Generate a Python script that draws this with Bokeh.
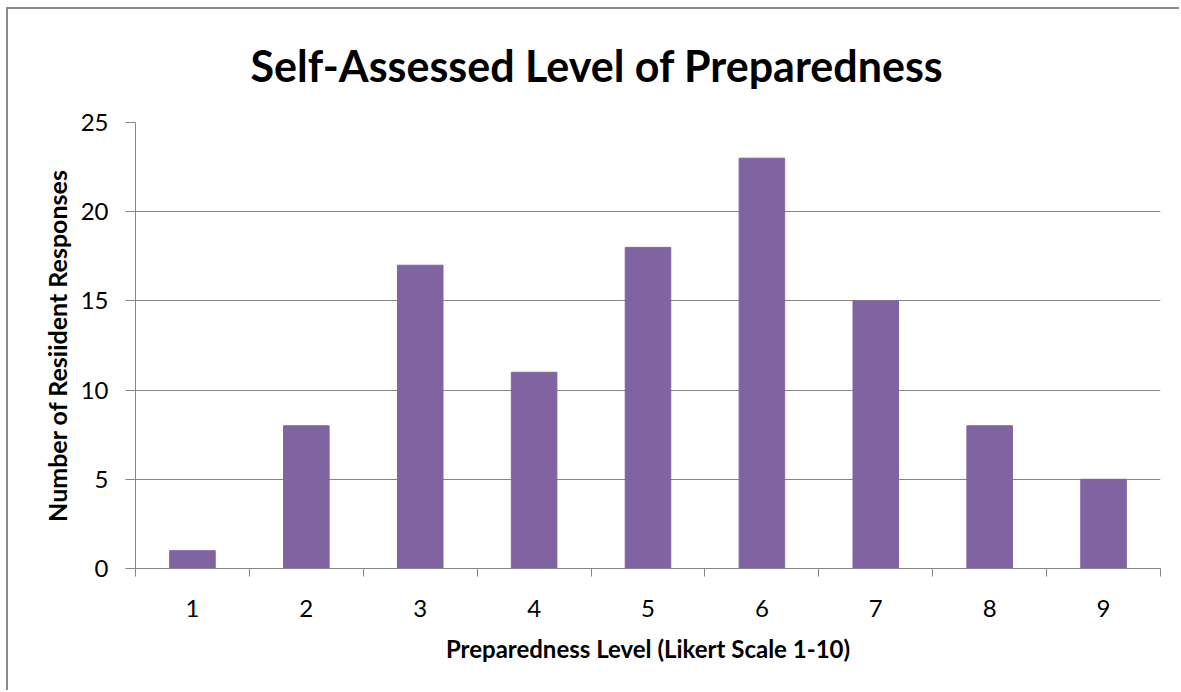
from bokeh.plotting import figure
from bokeh.models import Range1d, FixedTicker
from bokeh.embed import file_html
from bokeh.resources import INLINE

title_text = "Self-Assessed Level of Preparedness"
x_title = "Preparedness Level (Likert Scale 1-10)"
y_title = "Number of Resiident Responses"
levels = [1, 2, 3, 4, 5, 6, 7, 8, 9]
responses = [1, 8, 17, 11, 18, 23, 15, 8, 5]
y_ticks = [0, 5, 10, 15, 20, 25]

BAR = "#8064A2"
GRID = "#868686"
FONT = "Lato"

p = figure(width=1173, height=683, output_backend="svg", toolbar_location=None,
           x_range=Range1d(levels[0] - 0.5, levels[-1] + 0.5),
           y_range=Range1d(y_ticks[0], y_ticks[-1]),
           min_border_left=127, min_border_top=113, min_border_right=21, min_border_bottom=124)
p.styles = {"margin-left": "6px", "margin-top": "7px",
            "border-top": "2px solid #8a8a8a", "border-left": "2px solid #8a8a8a"}

p.vbar(x=levels, top=responses, width=0.4, fill_color=BAR, line_color=BAR)

p.title.text = title_text
p.title.text_font = FONT
p.title.text_font_size = "43px"
p.title.text_font_style = "bold"
p.title.text_color = "#000000"
p.title.align = "left"
p.title.vertical_align = "top"
p.title.offset = 115
p.title.standoff = 60

p.outline_line_color = None
p.xgrid.visible = False
p.ygrid.grid_line_color = GRID
p.ygrid.ticker = FixedTicker(ticks=y_ticks)

xa = p.xaxis[0]
xa.ticker = FixedTicker(ticks=levels, minor_ticks=[v - 0.5 for v in levels] + [levels[-1] + 0.5])
xa.major_tick_out = 0
xa.major_tick_in = 0
xa.minor_tick_out = 8
xa.minor_tick_in = 0
xa.minor_tick_line_color = GRID
xa.axis_line_color = GRID
xa.major_label_text_font = FONT
xa.major_label_text_font_size = "24px"
xa.major_label_text_color = "#000000"
xa.major_label_standoff = 23
xa.axis_label = x_title
xa.axis_label_text_font = FONT
xa.axis_label_text_font_size = "24px"
xa.axis_label_text_font_style = "bold"
xa.axis_label_text_color = "#000000"
xa.axis_label_standoff = 14

ya = p.yaxis[0]
ya.ticker = FixedTicker(ticks=y_ticks)
ya.major_tick_out = 10
ya.major_tick_in = 0
ya.minor_tick_out = 0
ya.minor_tick_in = 0
ya.major_tick_line_color = GRID
ya.axis_line_color = GRID
ya.major_label_text_font = FONT
ya.major_label_text_font_size = "24px"
ya.major_label_text_color = "#000000"
ya.major_label_standoff = 17
ya.axis_label = y_title
ya.axis_label_text_font = FONT
ya.axis_label_text_font_size = "25px"
ya.axis_label_text_font_style = "bold"
ya.axis_label_text_color = "#000000"
ya.axis_label_standoff = 6

open("out.html", "w").write(file_html(p, INLINE))
